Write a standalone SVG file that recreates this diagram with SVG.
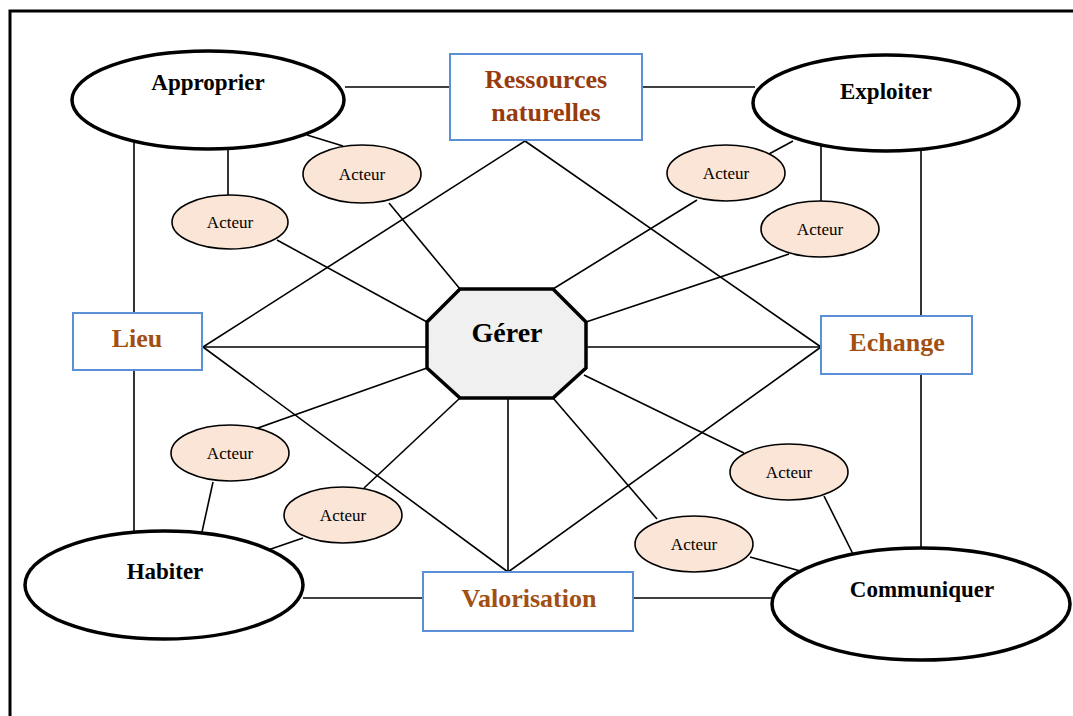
<svg xmlns="http://www.w3.org/2000/svg" width="1073" height="716" viewBox="0 0 1073 716">
<style>
.big{fill:#fff;stroke:#000;stroke-width:3.5}
.box{fill:#fff;stroke:#5b8fd6;stroke-width:2}
.act{fill:#fbe5d6;stroke:#000;stroke-width:1.6}
.bl{font-family:"Liberation Serif",serif;font-weight:bold;font-size:23px;fill:#000;text-anchor:middle}
.bx{font-family:"Liberation Serif",serif;font-weight:bold;font-size:26px;fill:#a24f14;text-anchor:middle}
.at{font-family:"Liberation Serif",serif;font-size:17px;fill:#000;text-anchor:middle}
#connectors line{stroke:#000;stroke-width:1.6}
</style>
<rect width="1073" height="716" fill="#fff"/>
<path d="M10,716 V11 H1073" fill="none" stroke="#000" stroke-width="3"/>
<g id="connectors">
<line x1="345" y1="87" x2="450" y2="87"/>
<line x1="642" y1="87" x2="755" y2="87"/>
<line x1="134" y1="143" x2="134" y2="313"/>
<line x1="134" y1="370" x2="134" y2="533"/>
<line x1="921" y1="149" x2="921" y2="316"/>
<line x1="921" y1="374" x2="921" y2="549"/>
<line x1="303" y1="598" x2="423" y2="598"/>
<line x1="633" y1="598" x2="773" y2="598"/>
<line x1="228" y1="150" x2="228" y2="195"/>
<line x1="307" y1="135" x2="343" y2="146"/>
<line x1="277" y1="240" x2="427" y2="322"/>
<line x1="389" y1="203" x2="460" y2="289"/>
<line x1="525" y1="141" x2="203" y2="347"/>
<line x1="525" y1="141" x2="821" y2="347"/>
<line x1="202" y1="347" x2="427" y2="347"/>
<line x1="586" y1="347" x2="821" y2="347"/>
<line x1="203" y1="347" x2="508" y2="572"/>
<line x1="821" y1="347" x2="508" y2="572"/>
<line x1="508" y1="398" x2="508" y2="572"/>
<line x1="769" y1="154" x2="793" y2="141"/>
<line x1="697" y1="200" x2="553" y2="289"/>
<line x1="821" y1="145" x2="821" y2="201"/>
<line x1="789" y1="254" x2="586" y2="322"/>
<line x1="252" y1="430" x2="427" y2="368"/>
<line x1="213" y1="482" x2="202" y2="532"/>
<line x1="364" y1="488" x2="460" y2="398"/>
<line x1="303" y1="538" x2="268" y2="550"/>
<line x1="744" y1="453" x2="584" y2="375"/>
<line x1="824" y1="496" x2="854" y2="556"/>
<line x1="657" y1="519" x2="553" y2="398"/>
<line x1="750" y1="557" x2="804" y2="572"/>
</g>
<g id="approprier"><ellipse class="big" cx="208" cy="100" rx="136" ry="49"/><text class="bl" x="208" y="90">Approprier</text></g>
<g id="exploiter"><ellipse class="big" cx="886" cy="103" rx="133" ry="48"/><text class="bl" x="886" y="99">Exploiter</text></g>
<g id="habiter"><ellipse class="big" cx="164" cy="585" rx="139" ry="54"/><text class="bl" x="165" y="579">Habiter</text></g>
<g id="communiquer"><ellipse class="big" cx="921" cy="604" rx="149" ry="56"/><text class="bl" x="922" y="597">Communiquer</text></g>
<g id="ressources"><rect class="box" x="450" y="54" width="192" height="86"/><text class="bx" x="546" y="88" style="fill:#973a0c">Ressources</text><text class="bx" x="546" y="121" style="fill:#973a0c">naturelles</text></g>
<g id="lieu"><rect class="box" x="73" y="313" width="129" height="57"/><text class="bx" x="137" y="347">Lieu</text></g>
<g id="echange"><rect class="box" x="821" y="316" width="151" height="58"/><text class="bx" x="897" y="351">Echange</text></g>
<g id="valorisation"><rect class="box" x="423" y="572" width="210" height="59"/><text class="bx" x="529" y="607">Valorisation</text></g>
<g id="gerer"><polygon points="460,289 553,289 586,322 586,368 553,398 460,398 427,368 427,322" fill="#f0f0f0" stroke="#000" stroke-width="3.5"/><text class="bl" x="507" y="342" style="font-size:28px">Gérer</text></g>
<g id="acteur1"><ellipse class="act" cx="230" cy="222" rx="58" ry="27"/><text class="at" x="230" y="228">Acteur</text></g>
<g id="acteur2"><ellipse class="act" cx="362" cy="174" rx="59" ry="29"/><text class="at" x="362" y="180">Acteur</text></g>
<g id="acteur3"><ellipse class="act" cx="726" cy="173" rx="59" ry="28"/><text class="at" x="726" y="179">Acteur</text></g>
<g id="acteur4"><ellipse class="act" cx="820" cy="229" rx="59" ry="28"/><text class="at" x="820" y="235">Acteur</text></g>
<g id="acteur5"><ellipse class="act" cx="230" cy="453" rx="59" ry="28"/><text class="at" x="230" y="459">Acteur</text></g>
<g id="acteur6"><ellipse class="act" cx="343" cy="515" rx="59" ry="28"/><text class="at" x="343" y="521">Acteur</text></g>
<g id="acteur7"><ellipse class="act" cx="789" cy="472" rx="59" ry="28"/><text class="at" x="789" y="478">Acteur</text></g>
<g id="acteur8"><ellipse class="act" cx="694" cy="544" rx="59" ry="28"/><text class="at" x="694" y="550">Acteur</text></g>
</svg>
